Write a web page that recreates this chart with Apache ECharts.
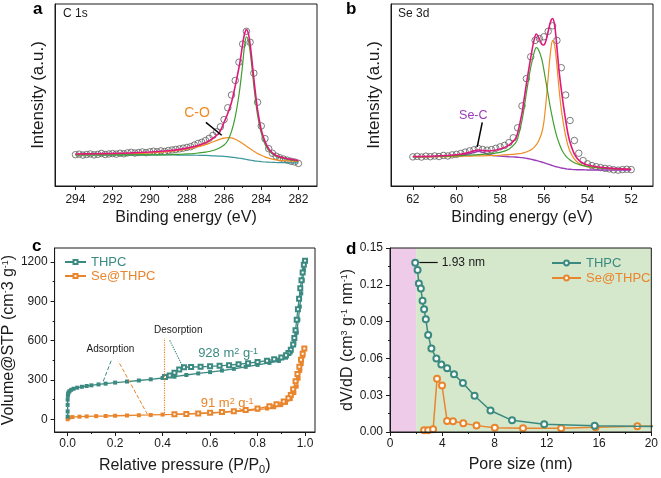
<!DOCTYPE html>
<html><head><meta charset="utf-8">
<script src="https://cdn.jsdelivr.net/npm/echarts@6/dist/echarts.min.js"></script>
<style>html,body{margin:0;padding:0;background:#fff}#c{width:661px;height:478px}</style>
</head><body><div id="c"></div>
<script>
// ---------- Panel a : C 1s ----------
const aFitE = [294, 293, 292, 291, 290, 289, 288.5, 288, 287.5, 287, 286.75, 286.5, 286.25, 286, 285.8, 285.6, 285.4, 285.2, 285.1, 285.0, 284.9, 284.8, 284.7, 284.6, 284.5, 284.4, 284.3, 284.2, 284.0, 283.8, 283.6, 283.4, 283.2, 283.0, 282.6, 282.3, 282.0];
const aEnvelope = [17.6, 17.7, 17.9, 18.2, 18.7, 19.4, 20.0, 20.8, 22.0, 23.8, 25.2, 27.0, 29.5, 35.0, 40.0, 46.0, 55.0, 65.0, 71.0, 78.0, 83.5, 86.0, 84.0, 78.0, 69.0, 59.0, 50.0, 42.0, 31.0, 24.5, 20.5, 18.2, 16.8, 16.0, 15.0, 14.5, 14.0];
const aCC = [17.1, 17.1, 17.1, 17.1, 17.1, 17.2, 17.4, 17.6, 18.0, 18.6, 19.1, 19.8, 20.9, 22.5, 25.0, 30.0, 38.0, 50.0, 58.0, 67.0, 77.0, 82.0, 80.0, 74.0, 65.0, 55.0, 46.5, 39.0, 29.0, 23.0, 19.5, 17.5, 16.2, 15.5, 14.6, 14.1, 13.7];
const aCO = [17.2, 17.3, 17.5, 17.8, 18.2, 18.9, 19.5, 20.2, 21.3, 22.7, 23.6, 24.6, 25.6, 26.3, 26.6, 26.4, 25.7, 24.6, 24.0, 23.3, 22.6, 21.9, 21.2, 20.5, 19.8, 19.1, 18.5, 17.9, 16.9, 16.0, 15.3, 14.8, 14.4, 14.1, 13.8, 13.6, 13.5];
const aBackground = [17.1, 17.1, 17.1, 17.1, 17.1, 17.1, 17.0, 17.0, 16.9, 16.8, 16.7, 16.5, 16.4, 16.3, 16.1, 15.9, 15.6, 15.3, 15.2, 15.0, 14.8, 14.6, 14.4, 14.2, 14.1, 13.9, 13.7, 13.6, 13.4, 13.2, 13.1, 13.0, 12.9, 12.8, 12.8, 12.7, 12.7];
const aDataE = [294.0, 293.8, 293.6, 293.4, 293.2, 293.0, 292.8, 292.6, 292.4, 292.2, 292.0, 291.8, 291.6, 291.4, 291.2, 291.0, 290.8, 290.6, 290.4, 290.2, 290.0, 289.8, 289.6, 289.4, 289.2, 289.0, 288.8, 288.6, 288.4, 288.2, 288.0, 287.8, 287.6, 287.4, 287.2, 287.0, 286.8, 286.6, 286.4, 286.2, 286.0, 285.8, 285.6, 285.4, 285.2, 285.0, 284.8, 284.6, 284.4, 284.2, 284.0, 283.8, 283.6, 283.4, 283.2, 283.0, 282.8, 282.6, 282.4, 282.2, 282.0];
const aData = [17.2, 17.5, 17.0, 17.3, 17.6, 17.1, 17.4, 17.9, 17.3, 17.6, 17.8, 17.5, 18.0, 17.7, 18.2, 18.5, 18.1, 18.4, 18.7, 18.3, 18.8, 19.1, 18.8, 19.3, 19.0, 19.5, 19.8, 20.1, 20.4, 20.8, 21.2, 21.6, 22.5, 23.4, 24.0, 25.0, 26.2, 27.8, 29.8, 32.5, 36.5, 43.0, 50.0, 58.0, 68.0, 78.0, 85.0, 79.0, 62.0, 46.0, 33.0, 26.0, 20.5, 18.0, 16.4, 15.5, 14.8, 14.2, 13.6, 13.2, 12.4];
const aTicks = [282, 284, 286, 288, 290, 292, 294];
const aMinor = [283, 285, 287, 289, 291, 293];

// ---------- Panel b : Se 3d ----------
const bFitE = [62, 61, 60, 59.5, 59.2, 59.0, 58.8, 58.5, 58, 57.6, 57.3, 57.2, 57.0, 56.9, 56.8, 56.65, 56.55, 56.45, 56.35, 56.25, 56.1, 56.0, 55.9, 55.8, 55.7, 55.6, 55.5, 55.4, 55.3, 55.2, 55.1, 55.0, 54.9, 54.8, 54.6, 54.4, 54.2, 54.0, 53.5, 53.0, 52.5, 52.0];
const bEnvelope = [16.2, 16.5, 17.2, 18.2, 19.3, 19.8, 19.5, 19.2, 20.3, 22.5, 26, 29, 40, 48, 56, 67, 74, 80, 83.5, 82, 78, 77.5, 80, 85, 90, 92, 88, 76, 63, 53, 44, 36, 29, 24, 17.5, 14.2, 12.5, 11.5, 10.4, 9.8, 9.4, 9.2];
const b3d52 = [16.0, 16.2, 16.6, 16.9, 17.1, 17.2, 17.4, 17.7, 18.5, 20.2, 23.5, 26, 36, 43, 51, 62, 68, 73, 76, 75, 70, 64, 57, 50, 43, 37, 31.5, 27, 23.5, 20.5, 18.3, 16.6, 15.3, 14.3, 12.8, 11.9, 11.2, 10.7, 10.0, 9.6, 9.3, 9.1];
const b3d32 = [16.0, 16.1, 16.3, 16.4, 16.5, 16.6, 16.6, 16.7, 16.9, 17.2, 17.5, 17.7, 18.0, 18.3, 18.7, 19.5, 20.2, 21.2, 22.6, 24.5, 29, 35, 46, 60, 73, 80, 77, 66, 53, 42, 34, 27.5, 22.5, 19, 14.8, 12.5, 11.3, 10.6, 9.9, 9.5, 9.3, 9.2];
const bSeC = [16.0, 16.2, 16.6, 17.5, 18.5, 19.0, 18.5, 17.2, 16.4, 16.1, 15.9, 15.8, 15.6, 15.4, 15.2, 14.9, 14.6, 14.3, 14.0, 13.7, 13.2, 12.8, 12.4, 12.0, 11.6, 11.2, 10.8, 10.5, 10.2, 9.9, 9.7, 9.5, 9.3, 9.2, 9.0, 8.9, 8.9, 8.8, 8.8, 8.8, 8.8, 8.8];
const bDataE = [62.0, 61.8, 61.6, 61.4, 61.2, 61.0, 60.8, 60.6, 60.4, 60.2, 60.0, 59.8, 59.6, 59.4, 59.2, 59.0, 58.8, 58.6, 58.4, 58.2, 58.0, 57.8, 57.6, 57.4, 57.2, 57.0, 56.8, 56.6, 56.4, 56.2, 56.0, 55.8, 55.6, 55.4, 55.2, 55.0, 54.8, 54.6, 54.4, 54.2, 54.0, 53.8, 53.6, 53.4, 53.2, 53.0, 52.8, 52.6, 52.4, 52.2, 52.0];
const bData = [16.0, 16.3, 15.9, 16.4, 16.1, 16.5, 16.2, 16.8, 16.5, 17.1, 17.4, 17.9, 18.6, 19.3, 19.9, 20.6, 20.1, 19.7, 20.0, 20.7, 21.5, 22.3, 23.8, 26.5, 32, 44, 59, 71, 80, 81, 82, 85, 88, 80, 65, 50, 36, 25, 18, 14, 12.2, 11.2, 10.6, 10.1, 9.7, 9.4, 8.9, 8.7, 9.0, 9.2, 9.0];
const bTicks = [52, 54, 56, 58, 60, 62];
const bMinor = [53, 55, 57, 59, 61];

// ---------- Panel c : N2 isotherms ----------
const cThpcAdsP = [0, 0, 0, 0, 0.001, 0.002, 0.004, 0.008, 0.015, 0.025, 0.04, 0.06, 0.08, 0.1, 0.13, 0.16, 0.2, 0.25, 0.3, 0.35, 0.4, 0.45, 0.5, 0.55, 0.6, 0.65, 0.7, 0.75, 0.8, 0.85, 0.89, 0.92, 0.94, 0.955, 0.965, 0.972, 0.978, 0.984, 0.99, 0.995, 1.0];
const cThpcAdsV = [20, 60, 110, 150, 180, 195, 205, 215, 225, 233, 241, 248, 254, 259, 266, 272, 280, 288, 296, 305, 315, 325, 338, 350, 360, 372, 385, 400, 415, 430, 445, 470, 510, 580, 660, 760, 860, 960, 1060, 1140, 1210];
const cThpcDesP = [1.0, 0.995, 0.99, 0.985, 0.98, 0.975, 0.97, 0.965, 0.96, 0.955, 0.95, 0.94, 0.93, 0.92, 0.9, 0.87, 0.84, 0.8, 0.76, 0.72, 0.68, 0.64, 0.6, 0.56, 0.52, 0.49, 0.47, 0.45, 0.43, 0.41];
const cThpcDesV = [1210, 1180, 1120, 1060, 1000, 920, 840, 760, 680, 620, 570, 530, 505, 488, 472, 458, 447, 437, 428, 420, 413, 408, 404, 401, 399, 397, 380, 355, 335, 322];
const cSeAdsP = [0, 0.005, 0.02, 0.05, 0.08, 0.12, 0.16, 0.2, 0.25, 0.3, 0.35, 0.4, 0.45, 0.5, 0.55, 0.6, 0.65, 0.7, 0.75, 0.8, 0.84, 0.87, 0.9, 0.92, 0.94, 0.955, 0.965, 0.973, 0.98, 0.986, 0.992, 0.997];
const cSeAdsV = [0, 12, 17, 20, 22, 24, 25, 27, 29, 31, 33, 36, 38, 41, 44, 48, 53, 58, 65, 73, 82, 92, 108, 125, 155, 200, 250, 310, 370, 420, 480, 540];
const cSeDesP = [0.997, 0.99, 0.983, 0.976, 0.968, 0.96, 0.95, 0.94, 0.93, 0.91, 0.88, 0.85, 0.8, 0.75, 0.7, 0.65, 0.6, 0.55, 0.5, 0.45];
const cSeDesV = [540, 500, 455, 400, 345, 290, 230, 185, 160, 135, 115, 100, 82, 70, 62, 55, 49, 45, 41, 38];
const cXTicks = [0, 0.2, 0.4, 0.6, 0.8, 1.0];
const cXMinor = [0.1, 0.3, 0.5, 0.7, 0.9];
const cYTicks = [0, 300, 600, 900, 1200];
const cYMinor = [150, 450, 750, 1050];

// ---------- Panel d : pore size distribution ----------
const dThpcX = [1.93, 2.11, 2.21, 2.36, 2.49, 2.61, 2.74, 2.92, 3.17, 3.55, 3.93, 4.37, 4.90, 5.58, 6.47, 7.69, 9.34, 11.80, 15.66, 21.0];
const dThpcY = [0.138, 0.132, 0.121, 0.117, 0.107, 0.100, 0.092, 0.079, 0.068, 0.060, 0.055, 0.052, 0.047, 0.040, 0.0295, 0.0175, 0.0095, 0.0063, 0.0050, 0.0045];
const dSeX = [2.61, 2.92, 3.30, 3.60, 3.98, 4.37, 4.82, 5.61, 6.62, 8.02, 10.18, 13.1, 15.74, 18.93, 22.0];
const dSeY = [0.0014, 0.0014, 0.0022, 0.0434, 0.0379, 0.0090, 0.0087, 0.0071, 0.0052, 0.0035, 0.0030, 0.0030, 0.0038, 0.0046, 0.0052];
const dXTicks = [0, 4, 8, 12, 16, 20];
const dXMinor = [2, 6, 10, 14, 18];
const dYTicks = [0, 0.03, 0.06, 0.09, 0.12, 0.15];
const dYMinor = [0.015, 0.045, 0.075, 0.105, 0.135];

// ---------- styling ----------
const FONT = '"Liberation Sans", Arial, Helvetica, sans-serif';
const TEAL = '#3b8a82', ORANGE = '#e9852c';
const MAG = '#e0187c', GREEN = '#3f9e2e', ORF = '#f08c22', BGT = '#3a979a', PURP = '#9b3cb8', CIRC = '#5c5c5c';
const INK = '#1a1a1a';
const zip = (xs, ys) => xs.map((x, i) => [x, ys[i]]);

function mainAxis(gi, o) {
  return {
    type: 'value', gridIndex: gi, min: o.min, max: o.max, inverse: !!o.inverse, position: o.pos,
    axisLine: {show: true, onZero: false, lineStyle: {color: INK, width: 1}},
    axisTick: {show: !!o.major, inside: false, length: 4, lineStyle: {color: INK, width: 1}, customValues: o.major || []},
    axisLabel: {show: !!o.major, customValues: o.major || [], margin: o.margin || 7, fontSize: 12, color: INK, fontFamily: FONT, formatter: o.fmt || (v => String(v))},
    splitLine: {show: false},
    name: o.name, nameLocation: 'middle', nameGap: o.gap, nameRotate: o.rot,
    nameTextStyle: {fontSize: o.nfs || 16, color: INK, fontFamily: FONT, rich: o.rich},
    z: 5
  };
}
function minorAxis(gi, o) {
  return {
    type: 'value', gridIndex: gi, min: o.min, max: o.max, inverse: !!o.inverse, position: o.pos,
    axisLine: {show: false, onZero: false},
    axisTick: {show: !!o.minor, inside: false, length: 2, lineStyle: {color: INK, width: 1}, customValues: o.minor || []},
    axisLabel: {show: false}, splitLine: {show: false}, z: 5
  };
}
const supRich = (c) => ({sup: {fontSize: 9, verticalAlign: 'top', color: c, fontFamily: FONT}, sub: {fontSize: 11, verticalAlign: 'bottom', padding: [7, 0, 0, 0], color: c, fontFamily: FONT}});

const ax = {
  a: {x: {min: 281, max: 295.1, inverse: true, pos: 'bottom', major: aTicks, minor: aMinor, margin: 8, name: 'Binding energy (eV)', gap: 24},
      y: {min: 0, max: 100, pos: 'left', name: 'Intensity (a.u.)', gap: 8, nfs: 17}},
  b: {x: {min: 51, max: 63, inverse: true, pos: 'bottom', major: bTicks, minor: bMinor, margin: 8, name: 'Binding energy (eV)', gap: 24},
      y: {min: 0, max: 100, pos: 'left', name: 'Intensity (a.u.)', gap: 8, nfs: 17}},
  c: {x: {min: -0.055, max: 1.042, pos: 'bottom', major: cXTicks, minor: cXMinor, margin: 6, fmt: v => v.toFixed(1), name: 'Relative pressure (P/P{sub|0})', gap: 25, rich: supRich(INK)},
      y: {min: -97, max: 1307, pos: 'left', major: cYTicks, minor: cYMinor, margin: 7, name: 'Volume@STP (cm{sup|-}3 g{sup|-1})', gap: 37, rich: supRich(INK)}},
  d: {x: {min: 0, max: 20, pos: 'bottom', major: dXTicks, minor: dXMinor, margin: 6, name: 'Pore size (nm)', gap: 25},
      y: {min: 0, max: 0.15, pos: 'left', major: dYTicks, minor: dYMinor, margin: 7, fmt: v => v.toFixed(2), name: 'dV/dD (cm{sup|3} g{sup|-1} nm{sup|-1})', gap: 32, rich: supRich(INK)}}
};
const keys = ['a', 'b', 'c', 'd'];
const xAxis = [], yAxis = [];
keys.forEach((k, gi) => {
  xAxis.push(mainAxis(gi, ax[k].x), minorAxis(gi, ax[k].x));
  yAxis.push(mainAxis(gi, ax[k].y), minorAxis(gi, ax[k].y));
});

const hidden = {symbol: 'circle', symbolSize: 1, itemStyle: {color: 'rgba(0,0,0,0)'}};
function textMark(coord, text, color, size, rich) {
  return Object.assign({coord: coord, label: {show: true, position: 'inside', formatter: text, color: color, fontSize: size, fontFamily: FONT, rich: rich}}, hidden);
}
function fitLine(gi, name, xs, ys, color, w, z) {
  return {type: 'line', name: name, xAxisIndex: gi * 2, yAxisIndex: gi * 2, data: zip(xs, ys), showSymbol: false, symbol: 'none',
    lineStyle: {color: color, width: w}, itemStyle: {color: color}, smooth: 0.3, z: z, silent: true};
}
function circles(gi, xs, ys) {
  return {type: 'scatter', xAxisIndex: gi * 2, yAxisIndex: gi * 2, data: zip(xs, ys), symbol: 'circle', symbolSize: 6.5,
    itemStyle: {color: 'rgba(255,255,255,0)', borderColor: CIRC, borderWidth: 1}, z: 2, silent: true};
}

const series = [
  // ----- a -----
  circles(0, aDataE, aData),
  fitLine(0, 'bg-a', aFitE, aBackground, BGT, 1.2, 3),
  fitLine(0, 'CO', aFitE, aCO, ORF, 1.2, 3),
  fitLine(0, 'CC', aFitE, aCC, GREEN, 1.2, 3),
  Object.assign(fitLine(0, 'env-a', aFitE, aEnvelope, MAG, 1.6, 4), {
    markLine: {silent: true, symbol: ['none', 'arrow'], symbolSize: [0, 8], label: {show: false},
      lineStyle: {color: '#000', width: 1.5, type: 'solid'}, data: [[{coord: [286.98, 35.0]}, {coord: [286.13, 27.9]}]]},
    markPoint: {silent: true, data: [textMark([287.46, 39.9], 'C-O', ORF, 14)]}
  }),
  // ----- b -----
  circles(1, bDataE, bData),
  fitLine(1, 'SeC', bFitE, bSeC, PURP, 1.4, 3),
  fitLine(1, '3d32', bFitE, b3d32, ORF, 1.2, 3),
  fitLine(1, '3d52', bFitE, b3d52, GREEN, 1.2, 3),
  Object.assign(fitLine(1, 'env-b', bFitE, bEnvelope, MAG, 1.6, 4), {
    markLine: {silent: true, symbol: ['none', 'arrow'], symbolSize: [0, 8], label: {show: false},
      lineStyle: {color: '#000', width: 1.5, type: 'solid'}, data: [[{coord: [58.82, 35.0]}, {coord: [59.05, 21.5]}]]},
    markPoint: {silent: true, data: [textMark([59.23, 38.9], 'Se-C', PURP, 12.5)]}
  }),
  // ----- c -----
  {type: 'line', name: 'Se@THPC-ads', xAxisIndex: 4, yAxisIndex: 4, data: zip(cSeAdsP, cSeAdsV), symbol: 'rect', symbolSize: 4,
    lineStyle: {color: ORANGE, width: 1.3}, itemStyle: {color: ORANGE}, z: 3,
    markLine: {silent: true, symbol: ['none', 'arrow'], symbolSize: [0, 6], label: {show: false}, lineStyle: {color: ORANGE, width: 1},
      data: [[{coord: [0.336, 38]}, {coord: [0.214, 442]}],
             [{coord: [0.407, 30], lineStyle: {type: 'dotted', width: 1.2}}, {coord: [0.407, 618]}]]},
    markPoint: {silent: true, data: [textMark([0.672, 124], '91 m{sup|2} g{sup|-1}', ORANGE, 13, supRich(ORANGE))]}},
  {type: 'line', name: 'Se@THPC', xAxisIndex: 4, yAxisIndex: 4, data: zip(cSeDesP, cSeDesV), symbol: 'emptyRect', symbolSize: 4,
    lineStyle: {color: ORANGE, width: 1.3}, itemStyle: {color: ORANGE}, z: 3},
  {type: 'line', name: 'THPC-ads', xAxisIndex: 4, yAxisIndex: 4, data: zip(cThpcAdsP, cThpcAdsV), symbol: 'rect', symbolSize: 4,
    lineStyle: {color: TEAL, width: 1.3}, itemStyle: {color: TEAL}, z: 4,
    markLine: {silent: true, symbol: ['none', 'arrow'], symbolSize: [0, 6], label: {show: false}, lineStyle: {color: TEAL, width: 1},
      data: [[{coord: [0.15, 290]}, {coord: [0.184, 450]}],
             [{coord: [0.486, 397], lineStyle: {type: 'dotted', width: 1.2}}, {coord: [0.428, 610]}]]},
    markPoint: {silent: true, data: [
      textMark([0.18, 534], 'Adsorption', INK, 10),
      textMark([0.466, 679], 'Desorption', INK, 10),
      textMark([0.676, 503], '928 m{sup|2} g{sup|-1}', TEAL, 13, supRich(TEAL))]}},
  {type: 'line', name: 'THPC', xAxisIndex: 4, yAxisIndex: 4, data: zip(cThpcDesP, cThpcDesV), symbol: 'emptyRect', symbolSize: 4,
    lineStyle: {color: TEAL, width: 1.3}, itemStyle: {color: TEAL}, z: 4},
  // ----- d -----
  {type: 'line', name: 'zones', xAxisIndex: 6, yAxisIndex: 6, data: [], z: 1, silent: true,
    markArea: {silent: true, data: [
      [{xAxis: 0, itemStyle: {color: '#eecbe8'}}, {xAxis: 2}],
      [{xAxis: 2, itemStyle: {color: '#d5e8cb'}}, {xAxis: 20}]]}},
  {type: 'line', name: 'Se@THPC_d', xAxisIndex: 6, yAxisIndex: 6, data: zip(dSeX, dSeY), symbol: 'emptyCircle', symbolSize: 6,
    lineStyle: {color: ORANGE, width: 1.5}, itemStyle: {color: ORANGE, borderWidth: 1.3}, z: 3},
  {type: 'line', name: 'THPC_d', xAxisIndex: 6, yAxisIndex: 6, data: zip(dThpcX, dThpcY), symbol: 'emptyCircle', symbolSize: 6,
    lineStyle: {color: TEAL, width: 1.5}, itemStyle: {color: TEAL, borderWidth: 1.3}, z: 4,
    markLine: {silent: true, symbol: ['none', 'arrow'], symbolSize: [0, 7], lineStyle: {color: '#111', width: 1.2, type: 'solid'},
      label: {show: true, position: 'end', formatter: '1.93 nm', color: INK, fontSize: 12, fontFamily: FONT, distance: 4},
      data: [[{coord: [2.25, 0.138]}, {coord: [3.65, 0.138]}]]}}
];

const option = {
  animation: false,
  backgroundColor: '#fff',
  textStyle: {fontFamily: FONT},
  grid: [
    {left: 55, top: 4, width: 262, height: 182, show: true, borderColor: INK, borderWidth: 1, backgroundColor: 'transparent', z: 10},
    {left: 391, top: 4, width: 262, height: 182, show: true, borderColor: INK, borderWidth: 1, backgroundColor: 'transparent', z: 10},
    {left: 54, top: 248, width: 261, height: 184, show: true, borderColor: INK, borderWidth: 1, backgroundColor: 'transparent', z: 10},
    {left: 390, top: 248, width: 263, height: 184, show: true, borderColor: INK, borderWidth: 1, backgroundColor: 'transparent', z: 10}
  ],
  xAxis: xAxis, yAxis: yAxis, series: series,
  legend: [
    {left: 64, top: 255, orient: 'vertical', padding: 0, itemGap: 0, itemWidth: 21, itemHeight: 5, selectedMode: false,
      textStyle: {fontSize: 13, fontFamily: FONT, lineHeight: 14},
      data: [{name: 'THPC', textStyle: {color: TEAL}}, {name: 'Se@THPC', textStyle: {color: ORANGE}}]},
    {left: 551, top: 256, orient: 'vertical', padding: 0, itemGap: 1, itemWidth: 29, itemHeight: 6, selectedMode: false,
      textStyle: {fontSize: 13, fontFamily: FONT, lineHeight: 14}, formatter: n => n.replace('_d', ''),
      data: [{name: 'THPC_d', textStyle: {color: TEAL}}, {name: 'Se@THPC_d', textStyle: {color: ORANGE}}]}
  ],
  graphic: [
    {type: 'text', left: 33, top: 1, style: {text: 'a', font: 'bold 17px ' + FONT, fill: '#000'}},
    {type: 'text', left: 346, top: 1, style: {text: 'b', font: 'bold 17px ' + FONT, fill: '#000'}},
    {type: 'text', left: 32, top: 238, style: {text: 'c', font: 'bold 17px ' + FONT, fill: '#000'}},
    {type: 'text', left: 346, top: 241, style: {text: 'd', font: 'bold 17px ' + FONT, fill: '#000'}},
    {type: 'text', left: 63, top: 8, style: {text: 'C 1s', font: '12px ' + FONT, fill: INK}},
    {type: 'text', left: 398, top: 8, style: {text: 'Se 3d', font: '12px ' + FONT, fill: INK}}
  ]
};
const chart = echarts.init(document.getElementById('c'), null, {renderer: 'canvas'});
chart.setOption(option);
</script></body></html>
